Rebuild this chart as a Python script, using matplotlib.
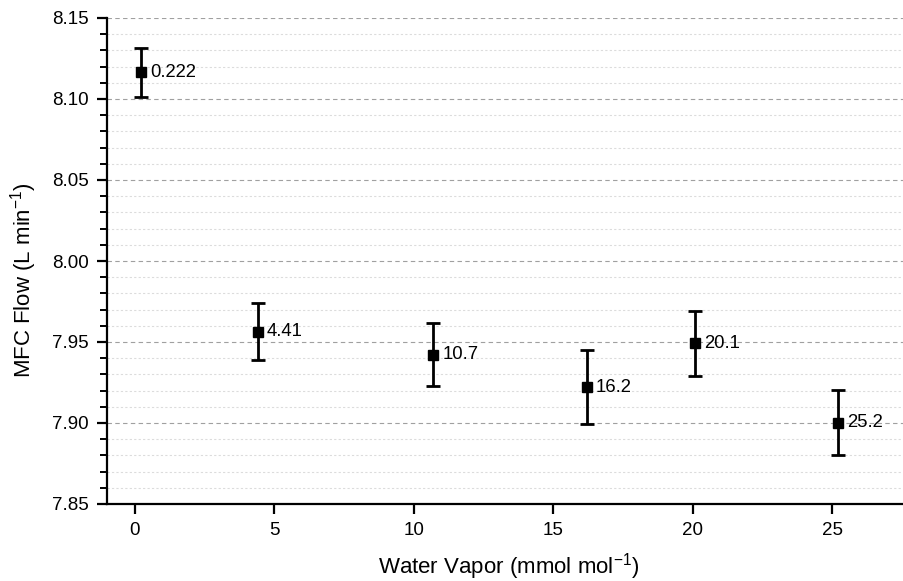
import numpy as np
import matplotlib.pyplot as plt
from matplotlib.ticker import MultipleLocator

plt.rcParams['font.family'] = ['Liberation Sans', 'DejaVu Sans']
plt.rcParams['mathtext.fontset'] = 'custom'
plt.rcParams['mathtext.rm'] = 'Liberation Sans'
plt.rcParams['mathtext.it'] = 'Liberation Sans:italic'
plt.rcParams['mathtext.default'] = 'rm'

# water vapor (mmol/mol), MFC flow (L/min) and its error
vapor = [0.222, 4.41, 10.7, 16.2, 20.1, 25.2]
flow = [8.1165, 7.9564, 7.9422, 7.9222, 7.9492, 7.9002]
err = [0.0150, 0.0176, 0.0196, 0.0228, 0.0200, 0.0202]
labels = ['0.222', '4.41', '10.7', '16.2', '20.1', '25.2']

W, H = 904, 581
fig = plt.figure(figsize=(W / 100, H / 100), dpi=100)
ax = fig.add_axes([107 / W, 1 - 504 / H, 1 - 107 / W, 486 / H])

ax.errorbar(vapor, flow, yerr=err, fmt='s', color='black', ms=6.5,
            elinewidth=2, capsize=5, capthick=2, zorder=3)
for x, y, t in zip(vapor, flow, labels):
    ax.annotate(t, (x, y), xytext=(6.5, 0), textcoords='offset points',
                va='center', ha='left', fontsize=13.3)

ax.set_xlim(-1, 27.58)
ax.set_ylim(7.85, 8.15)
ax.xaxis.set_major_locator(MultipleLocator(5))
ax.yaxis.set_major_locator(MultipleLocator(0.05))
ax.yaxis.set_minor_locator(MultipleLocator(0.01))
ax.yaxis.set_major_formatter(plt.FormatStrFormatter('%.2f'))

ax.grid(axis='y', which='major', color='#a0a0a0', linestyle=(0, (4, 3)), linewidth=0.8)
ax.grid(axis='y', which='minor', color='#dcdcdc', linestyle=(0, (2, 2)), linewidth=0.8)
ax.set_axisbelow(True)

for s in ['top', 'right']:
    ax.spines[s].set_visible(False)
for s in ['left', 'bottom']:
    ax.spines[s].set_linewidth(1.6)

ax.tick_params(which='major', direction='out', length=7, width=1.6, labelsize=13.5)
ax.tick_params(which='minor', direction='out', length=5, width=1.4)
ax.tick_params(axis='x', pad=6)
ax.tick_params(axis='y', pad=6)

# axis titles placed where the reference has them
fig.text(509 / W, 1 - 574 / H, 'Water Vapor (mmol mol$^{-1}$)', fontsize=16,
         ha='center', va='baseline')
fig.text(24 / W, 1 - 280 / H, 'MFC Flow (L min$^{-1}$)', fontsize=16,
         ha='center', va='center', rotation=90)

fig.savefig('out.png', dpi=100)
